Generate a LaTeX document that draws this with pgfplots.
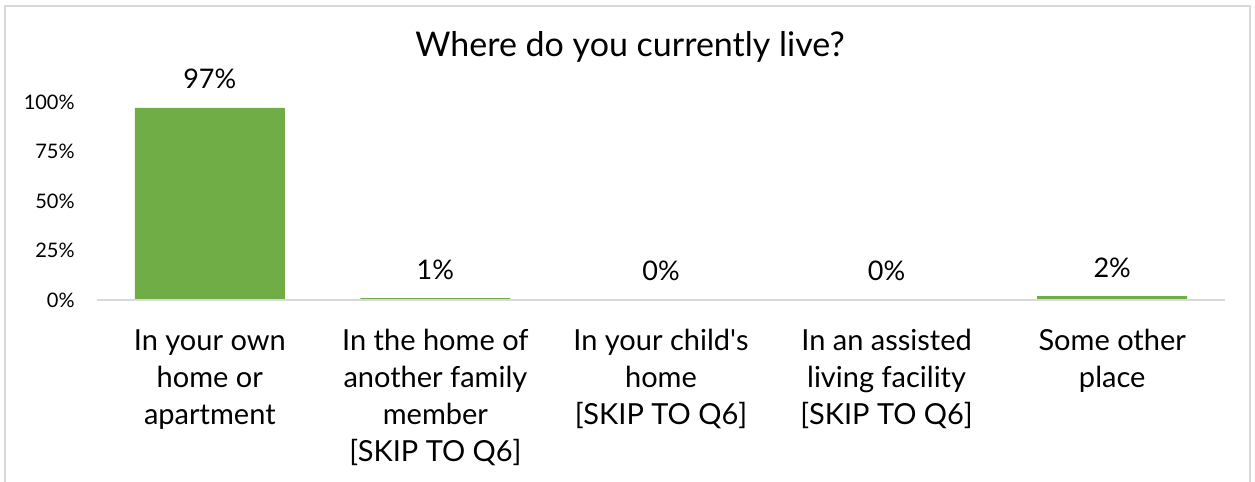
\documentclass[border=0pt]{standalone}
\usepackage{fontspec}
\setmainfont{Lato}
\usepackage{pgfplots}
\pgfplotsset{compat=1.18}
\definecolor{bargreen}{HTML}{70AD47}
\definecolor{framegray}{HTML}{D9D9D9}
\begin{document}
\begin{tikzpicture}
\useasboundingbox (0,0) rectangle (627.5pt,241pt);
\draw[framegray, line width=0.8pt] (2.5pt,-10pt) rectangle (625pt,238pt);
\node[anchor=base, font=\fontsize{17}{20}\selectfont] at (315pt,212.5pt) {Where do you currently live?};
\begin{axis}[
  at={(48.5pt,91pt)}, anchor=south west,
  scale only axis, width=564pt, height=99pt,
  ybar, bar width=75pt,
  xmin=-0.5, xmax=4.5, ymin=0, ymax=100,
  clip=false,
  axis line style={draw=none},
  major tick length=0pt,
  ytick={0,25,50,75,100},
  yticklabel={\pgfmathprintnumber{\tick}\%},
  /pgf/number format/assume math mode=true,
  yticklabel style={font=\fontsize{10}{12}\selectfont, anchor=east, inner sep=0pt, xshift=-11pt},
  xtick={0,1,2,3,4},
  xticklabels={{In your own\\home or\\apartment},{In the home of\\another family\\member\\{[SKIP TO Q6]}},{In your child\textquotesingle s\\home\\{[SKIP TO Q6]}},{In an assisted\\living facility\\{[SKIP TO Q6]}},{Some other\\place}},
  xticklabel style={font=\fontsize{14.5}{18.5}\selectfont, align=center, anchor=north, inner sep=0pt, yshift=-14.5pt},
  nodes near coords={\pgfmathprintnumber{\pgfplotspointmeta}\%},
  nodes near coords style={font=\fontsize{13.5}{16}\selectfont, anchor=base, inner sep=0pt, yshift=9.5pt, text=black},
]
\addplot[fill=bargreen, draw=none] coordinates {(0,97) (1,1) (2,0) (3,0) (4,2)};
\draw[framegray, line width=0.8pt] (axis cs:-0.5,0) -- (axis cs:4.5,0);
\end{axis}
\end{tikzpicture}
\end{document}
